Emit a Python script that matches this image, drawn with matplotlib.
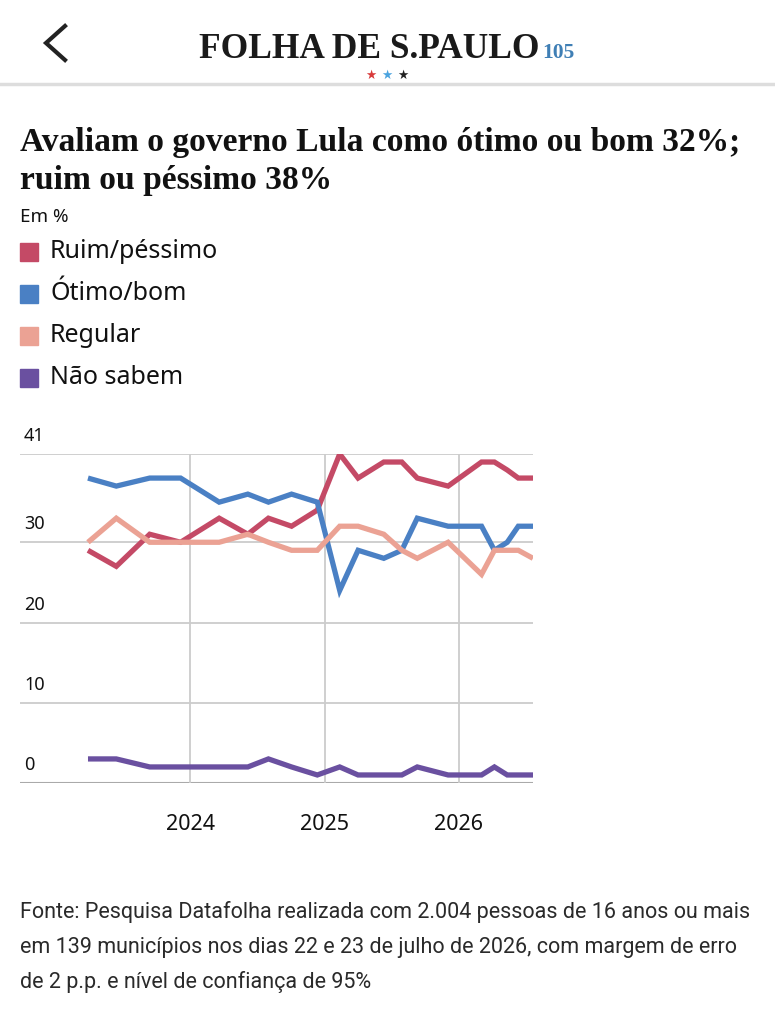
import matplotlib
matplotlib.use("Agg")
import matplotlib.pyplot as plt
import pandas as pd

dates = ["2023-03-29", "2023-06-14", "2023-09-13", "2023-12-06", "2024-03-20",
         "2024-06-06", "2024-08-01", "2024-10-03", "2024-12-12", "2025-02-11",
         "2025-04-02", "2025-06-11", "2025-07-30", "2025-09-10", "2025-12-03",
         "2026-03-04", "2026-04-08", "2026-05-13", "2026-06-12", "2026-07-22"]
ruim = [29, 27, 31, 30, 33, 31, 33, 32, 34, 41, 38, 40, 40, 38, 37, 40, 40, 39, 38, 38]
otimo = [38, 37, 38, 38, 35, 36, 35, 36, 35, 24, 29, 28, 29, 33, 32, 32, 29, 30, 32, 32]
regular = [30, 33, 30, 30, 30, 31, 30, 29, 29, 32, 32, 31, 29, 28, 30, 26, 29, 29, 29, 28]
nao_sabem = [3, 3, 2, 2, 2, 2, 3, 2, 1, 2, 1, 1, 1, 2, 1, 1, 2, 1, 1, 1]

series_names = ["Ruim/péssimo", "Ótimo/bom", "Regular", "Não sabem"]
series_values = [ruim, otimo, regular, nao_sabem]
colors = ["#c44a66", "#4a80c4", "#eba294", "#6a50a0"]

y_ticks = [0, 10, 20, 30, 41]
x_ticks = ["2024-01-01", "2025-01-01", "2026-01-01"]
x_labels = ["2024", "2025", "2026"]

W, H = 775, 1024
fig = plt.figure(figsize=(W / 100, H / 100), dpi=100)
fig.patch.set_facecolor("white")

def fx(px):
    return px / W

def fy(py):
    return 1 - py / H

sans = ["Noto Sans", "DejaVu Sans"]
foot = ["Roboto", "Noto Sans", "DejaVu Sans"]
serif = ["Liberation Serif", "DejaVu Serif"]

# Header
fig.add_artist(plt.Line2D([fx(65), fx(46), fx(65)], [fy(26), fy(43), fy(60)],
                          color="#222222", lw=3, solid_joinstyle="miter",
                          transform=fig.transFigure))
fig.text(fx(199), fy(58), "FOLHA DE S.PAULO", fontsize=25.5, family=serif,
         fontweight="bold", color="#1a1a1a", ha="left", va="baseline")
fig.text(fx(542), fy(58), "105", fontsize=15.5, family=serif,
         fontweight="bold", color="#3f7fb5", ha="left", va="baseline")
for sx, sc in zip([371, 387, 403], ["#d83a3a", "#4aa3df", "#222222"]):
    fig.text(fx(sx), fy(75), "★", fontsize=9, family=["DejaVu Sans"], color=sc,
             ha="center", va="center")
fig.add_artist(plt.Line2D([0, 1], [fy(84), fy(84)], color="#dddddd", lw=2.5,
                          transform=fig.transFigure))

# Title
fig.text(fx(20), fy(142), "Avaliam o governo Lula como ótimo ou bom 32%;",
         fontsize=24.1, family=serif, fontweight="bold",
         color="#111111", ha="left", va="center")
fig.text(fx(20), fy(180), "ruim ou péssimo 38%",
         fontsize=24.1, family=serif, fontweight="bold",
         color="#111111", ha="left", va="center")
fig.text(fx(20), fy(217), "Em %", fontsize=13.5, family=sans, fontweight="semibold",
         color="#111111", ha="left", va="center")

# Legend
leg_y = [252, 294, 336, 378]
for name, c, ly in zip(series_names, colors, leg_y):
    fig.patches.append(plt.Rectangle((fx(20), fy(ly + 9)), fx(18), 18 / H,
                                     color=c, transform=fig.transFigure))
    fig.text(fx(50), fy(ly), name, fontsize=18, family=sans, color="#111111",
             ha="left", va="center")

# Chart
ax = fig.add_axes([fx(20), fy(783), fx(533) - fx(20), fy(454) - fy(783)])
xd = pd.to_datetime(dates)
for vals, c in zip(series_values, colors):
    ax.plot(xd, vals, color=c, lw=3.8, solid_joinstyle="miter", solid_capstyle="butt",
            zorder=3)

ax.set_ylim(0, 41)
ax.set_xlim(pd.Timestamp("2022-09-25"), pd.Timestamp("2026-07-22"))
for s in ax.spines.values():
    s.set_visible(False)
for yt in y_ticks:
    ax.axhline(yt, color="#cccccc" if yt else "#aaaaaa", lw=1.5 if yt == 0 else 1.3,
               zorder=1)
    ax.text(4 / 513, yt + 1.1, str(yt), transform=ax.get_yaxis_transform(),
            fontsize=13, family=sans, color="#111111", ha="left", va="bottom")
xt = pd.to_datetime(x_ticks)
for t in xt:
    ax.axvline(t, color="#cccccc", lw=1.3, zorder=1)
ax.set_xticks(xt)
ax.set_xticklabels(x_labels, fontsize=15.5, family=sans, color="#111111")
ax.tick_params(axis="x", length=0, pad=22)
ax.set_yticks([])
ax.patch.set_alpha(0)

# Footer
footer = ["Fonte: Pesquisa Datafolha realizada com 2.004 pessoas de 16 anos ou mais",
          "em 139 municípios nos dias 22 e 23 de julho de 2026, com margem de erro",
          "de 2 p.p. e nível de confiança de 95%"]
for i, line in enumerate(footer):
    fig.text(fx(20), fy(912 + 35 * i), line, fontsize=15.5, family=foot,
             color="#2a2a2a", ha="left", va="center")

fig.savefig("out.png", dpi=100)
